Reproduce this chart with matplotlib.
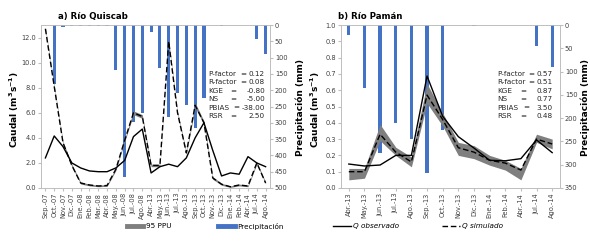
import matplotlib
matplotlib.use("Agg")
import matplotlib.pyplot as plt
from matplotlib.lines import Line2D

# ---------------- data: a) Rio Quiscab ----------------
meses_a = ["Sep.-07", "Oct.-07", "Nov.-07", "Dic.-07", "Ene.-08", "Feb.-08", "Mar.-08",
           "Abr.-08", "May.-08", "Jun.-08", "Jul.-08", "Ago.-08", "Abr.-13", "May.-13",
           "Jun.-13", "Jul.-13", "Ago.-13", "Sep.-13", "Oct.-13", "Nov.-13", "Dic.-13",
           "Ene.-14", "Feb.-14", "Abr.-14", "Jul.-14", "Ago.-14"]
obs_a = [2.4, 4.15, 3.3, 2.0, 1.6, 1.36, 1.3, 1.3, 1.6, 2.2, 4.1, 4.7, 1.2, 1.7,
         1.9, 1.7, 2.4, 4.0, 5.2, 3.0, 0.96, 1.2, 1.1, 2.5, 2.0, 1.7]
sim_a = [12.7, 8.1, 3.6, 1.8, 0.4, 0.24, 0.16, 0.2, 1.5, 3.8, 6.0, 5.7, 1.8, 1.8,
         11.7, 6.0, 2.8, 6.6, 5.2, 0.8, 0.3, 0.1, 0.24, 0.16, 2.0, 0.4]
ppu_lo_a = [12.6, 8.0, 3.5, 1.7, 0.32, 0.17, 0.1, 0.13, 1.4, 3.7, 5.85, 5.55, 1.7, 1.7,
            11.6, 5.9, 2.7, 6.4, 5.05, 0.7, 0.22, 0.05, 0.17, 0.1, 1.9, 0.32]
ppu_hi_a = [12.8, 8.2, 3.7, 1.9, 0.48, 0.31, 0.23, 0.27, 1.6, 3.9, 6.15, 5.85, 1.9, 1.9,
            11.8, 6.1, 2.9, 6.8, 5.35, 0.9, 0.38, 0.16, 0.31, 0.23, 2.1, 0.48]
pp_a = [0, 180, 5, 3, 2, 3, 4, 2, 138, 466, 297, 270, 21, 133,
        283, 209, 245, 316, 225, 0, 2, 0, 0, 0, 44, 90]

# ---------------- data: b) Rio Paman ----------------
meses_b = ["Abr.-13", "May.-13", "Jun.-13", "Jul.-13", "Ago.-13", "Sep.-13", "Oct.-13",
           "Nov.-13", "Dic.-13", "Ene.-14", "Feb.-14", "Abr.-14", "Jul.-14", "Ago.-14"]
obs_b = [0.147, 0.135, 0.141, 0.2, 0.2, 0.687, 0.44, 0.315, 0.245, 0.17, 0.167, 0.18, 0.295, 0.217]
sim_b = [0.1, 0.1, 0.33, 0.22, 0.16, 0.57, 0.42, 0.247, 0.22, 0.17, 0.153, 0.11, 0.3, 0.27]
ppu_lo_b = [0.05, 0.06, 0.29, 0.2, 0.13, 0.52, 0.38, 0.2, 0.18, 0.14, 0.11, 0.05, 0.28, 0.24]
ppu_hi_b = [0.12, 0.12, 0.39, 0.25, 0.19, 0.64, 0.46, 0.28, 0.26, 0.2, 0.17, 0.12, 0.33, 0.3]
pp_b = [21, 135, 275, 211, 245, 318, 225, 0, 2, 0, 0, 0, 45, 90]

stats_a = [("P-factor", "0.12"), ("R-factor", "0.08"), ("KGE", "-0.80"),
           ("NS", "-5.00"), ("PBIAS", "-38.00"), ("RSR", "2.50")]
stats_b = [("P-factor", "0.57"), ("R-factor", "0.51"), ("KGE", "0.87"),
           ("NS", "0.77"), ("PBIAS", "3.50"), ("RSR", "0.48")]

# ---------------- style ----------------
plt.rcParams.update({
    "font.family": "DejaVu Sans",
    "axes.linewidth": 0.6,
    "axes.edgecolor": "#BFBFBF",
    "xtick.color": "#BFBFBF",
    "ytick.color": "#BFBFBF",
    "xtick.labelcolor": "#404040",
    "ytick.labelcolor": "#404040",
    "xtick.major.size": 2,
    "ytick.major.size": 2,
})
blue = "#4472C4"
gray = "#7F7F7F"
W, H = 590, 244

fig = plt.figure(figsize=(5.9, 2.44), dpi=100)


def fx(px):
    return px / W


def fy(py):
    return 1 - py / H


def panel(rect, meses, obs, sim, lo, hi, pp, ylim, yticks, pmax, bar_w, stats, xs):
    ax = fig.add_axes(rect)
    x = range(len(meses))
    ax.fill_between(x, lo, hi, color=gray, linewidth=0, zorder=2)
    ax.plot(x, obs, color="black", lw=1.0, zorder=4)
    ax.plot(x, sim, color="black", lw=1.0, ls=(0, (4, 2)), zorder=4)
    ax.set_xlim(-0.5, len(meses) - 0.5)
    ax.set_ylim(*ylim)
    ax.set_yticks(yticks)
    ax.set_yticklabels([f"{v:.1f}" for v in yticks], fontsize=4.8)
    ax.set_xticks(list(x))
    ax.set_xticklabels(meses, rotation=90, fontsize=4.8)
    ax.tick_params(axis="x", length=2, pad=1.5)
    ax.tick_params(axis="y", pad=1.5)

    ax2 = ax.twinx()
    ax2.bar(x, pp, width=bar_w, color=blue, zorder=3)
    ax2.set_ylim(pmax, 0)
    ax2.set_yticks(range(0, pmax + 1, 50))
    ax2.tick_params(axis="y", labelsize=4.8, pad=1.5)
    ax.set_zorder(ax2.get_zorder() + 1)
    ax.patch.set_visible(False)

    # statistics block
    x0, xeq1, xeq2, x1 = xs
    for i, (k, v) in enumerate(stats):
        yy = fy(74 + i * 8.4)
        fig.text(fx(x0), yy, k, fontsize=5.2, va="center", ha="left", color="#262626")
        xe = xeq1 if i < 2 else (xeq2 + 3 if k == "PBIAS" else xeq2)
        fig.text(fx(xe), yy, "=", fontsize=5.2, va="center", ha="center", color="#262626")
        fig.text(fx(x1), yy, v, fontsize=5.2, va="center", ha="right", color="#262626")
    return ax


ax_a = panel([fx(41), fy(188), fx(270) - fx(41), fy(25) - fy(188)],
             meses_a, obs_a, sim_a, ppu_lo_a, ppu_hi_a, pp_a,
             (0, 13.0), [0, 2, 4, 6, 8, 10, 12], 500, 0.36,
             stats_a, (208, 243, 233, 265))
ax_b = panel([fx(341), fy(188), fx(560) - fx(341), fy(25) - fy(188)],
             meses_b, obs_b, sim_b, ppu_lo_b, ppu_hi_b, pp_b,
             (0, 1.0), [i / 10 for i in range(11)], 350, 0.21,
             stats_b, (497, 531, 523, 553))

# titles and axis labels
fig.text(fx(58), fy(17), "a) Río Quiscab", fontsize=6.2, fontweight="bold", va="center")
fig.text(fx(338), fy(17), "b) Río Pamán", fontsize=6.2, fontweight="bold", va="center")
for xp in (14, 315):
    fig.text(fx(xp), fy(110), "Caudal (m$^{\\mathbf{3}}$s$^{\\mathbf{-1}}$)", fontsize=6.5,
             fontweight="bold", rotation=90, ha="center", va="center")
for xp in (300, 585):
    fig.text(fx(xp), fy(108), "Precipitación (mm)", fontsize=6.5,
             fontweight="bold", rotation=90, ha="center", va="center")

# legends
h_a = [Line2D([], [], color=gray, lw=3.5), Line2D([], [], color=blue, lw=3.5)]
fig.legend(h_a, ["95 PPU", "Precipitación"], loc="center", ncol=2, frameon=False,
           bbox_to_anchor=(fx(205), fy(226)), fontsize=5.2, handlelength=2.3,
           handletextpad=0.3, columnspacing=6.5)
h_b = [Line2D([], [], color="black", lw=1.0),
       Line2D([], [], color="black", lw=1.0, ls=(0, (4, 2)))]
leg_b = fig.legend(h_b, ["Q observado", "Q simulado"], loc="center", ncol=2, frameon=False,
                   bbox_to_anchor=(fx(418), fy(226)), fontsize=5.2, handlelength=2.4,
                   handletextpad=0.3, columnspacing=6.0)
for t in leg_b.get_texts():
    t.set_fontstyle("italic")

fig.savefig("out.png", dpi=100)
